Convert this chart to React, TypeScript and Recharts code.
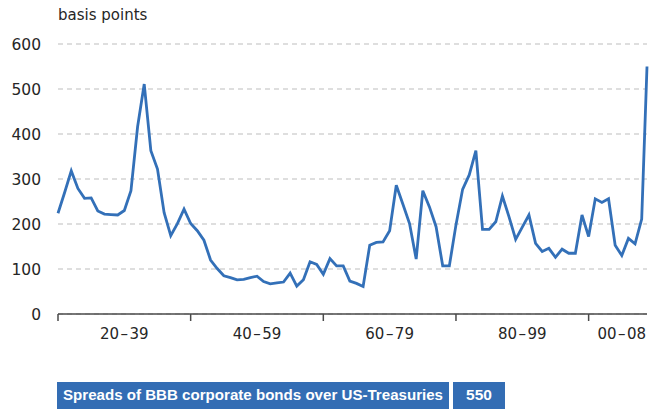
import { LineChart, Line, XAxis, YAxis, CartesianGrid } from "recharts";

// annual spreads, last point is the autumn 2008 reading
const years = [
  1920, 1921, 1922, 1923, 1924, 1925, 1926, 1927, 1928, 1929,
  1930, 1931, 1932, 1933, 1934, 1935, 1936, 1937, 1938, 1939,
  1940, 1941, 1942, 1943, 1944, 1945, 1946, 1947, 1948, 1949,
  1950, 1951, 1952, 1953, 1954, 1955, 1956, 1957, 1958, 1959,
  1960, 1961, 1962, 1963, 1964, 1965, 1966, 1967, 1968, 1969,
  1970, 1971, 1972, 1973, 1974, 1975, 1976, 1977, 1978, 1979,
  1980, 1981, 1982, 1983, 1984, 1985, 1986, 1987, 1988, 1989,
  1990, 1991, 1992, 1993, 1994, 1995, 1996, 1997, 1998, 1999,
  2000, 2001, 2002, 2003, 2004, 2005, 2006, 2007, 2008, 2008.8,
];

const spreads = [
  224, 270, 318, 279, 257, 258, 229, 222, 221, 220,
  230, 274, 416, 511, 363, 322, 225, 174, 201, 233,
  201, 185, 164, 120, 101, 85, 81, 76, 77, 81,
  84, 72, 67, 69, 71, 91, 62, 76, 116, 110,
  88, 123, 107, 107, 73, 68, 61, 153, 159, 160,
  185, 286, 244, 201, 122, 274, 238, 194, 107, 107,
  198, 277, 309, 363, 188, 188, 205, 262, 216, 166,
  193, 220, 157, 139, 146, 126, 144, 135, 135, 220,
  172, 256, 248, 256, 153, 130, 168, 156, 211, 550,
];

const yTicks = [0, 100, 200, 300, 400, 500, 600];
const periodBounds = [1920, 1940, 1960, 1980, 2000];
const periodCenters = [1930, 1950, 1970, 1990, 2005];
const periodLabels = ["20\u200A–\u200A39", "40\u200A–\u200A59", "60\u200A–\u200A79", "80\u200A–\u200A99", "00\u200A–\u200A08"];

const seriesName = "Spreads of BBB corporate bonds over US-Treasuries";
const unitLabel = "basis points";

const BLUE = "#3370b8";
const BOX = "#336db4";
const INK = "#262626";
const AXIS = "#4a4a4a";
const FONT = "'DejaVu Sans', sans-serif";

const data = years.map((year, i) => ({ year, spread: spreads[i] }));
const xTicks = [...periodBounds, ...periodCenters].sort((a, b) => a - b);

function PeriodTick(props: any) {
  const { x, y, payload } = props;
  const i = periodCenters.indexOf(payload.value);
  if (i >= 0) {
    return (
      <text x={x} y={y + 25} textAnchor="middle" fill={INK} fontSize={15} fontFamily={FONT}>
        {periodLabels[i]}
      </text>
    );
  }
  return <line x1={x} x2={x} y1={y} y2={y + 7} stroke={AXIS} strokeWidth={1.5} />;
}

export default function App() {
  const latest = spreads[spreads.length - 1];
  return (
    <div style={{ position: "absolute", left: 0, top: 0, width: 659, height: 409 }}>
      <LineChart
        width={659}
        height={409}
        data={data}
        margin={{ top: 44, right: 12, bottom: 65, left: 0 }}
      >
        <CartesianGrid vertical={false} stroke="#bdbdbd" strokeDasharray="5 4" />
        <XAxis
          dataKey="year"
          type="number"
          domain={[1920, 2008.8]}
          ticks={xTicks}
          interval={0}
          height={30}
          tickSize={0}
          tickMargin={0}
          tickLine={false}
          axisLine={{ stroke: AXIS, strokeWidth: 1.5 }}
          tick={<PeriodTick />}
        />
        <YAxis
          type="number"
          domain={[0, 600]}
          ticks={yTicks}
          width={58}
          tickSize={0}
          tickMargin={17}
          axisLine={false}
          tickLine={false}
          tick={{ fill: INK, fontSize: 15.5, fontFamily: FONT }}
        />
        <Line
          type="linear"
          dataKey="spread"
          stroke={BLUE}
          strokeWidth={2.8}
          dot={false}
          isAnimationActive={false}
        />
      </LineChart>

      {/* unit label and the series box under the chart */}
      <svg
        width={659}
        height={409}
        style={{ position: "absolute", left: 0, top: 0, pointerEvents: "none" }}
      >
        <text x={58} y={20} fill={INK} fontSize={15} fontFamily={FONT}>
          {unitLabel}
        </text>
        <rect x={57} y={382} width={392} height={27} fill={BOX} />
        <rect x={453} y={382} width={52} height={27} fill={BOX} />
        <text
          x={63}
          y={400}
          fill="#fff"
          fontSize={15.5}
          fontWeight="bold"
          fontFamily="'Liberation Sans', Arial, sans-serif"
          textLength={380}
          lengthAdjust="spacingAndGlyphs"
        >
          {seriesName}
        </text>
        <text
          x={479}
          y={400}
          textAnchor="middle"
          fill="#fff"
          fontSize={15.5}
          fontWeight="bold"
          fontFamily="'Liberation Sans', Arial, sans-serif"
        >
          {latest}
        </text>
      </svg>
    </div>
  );
}
